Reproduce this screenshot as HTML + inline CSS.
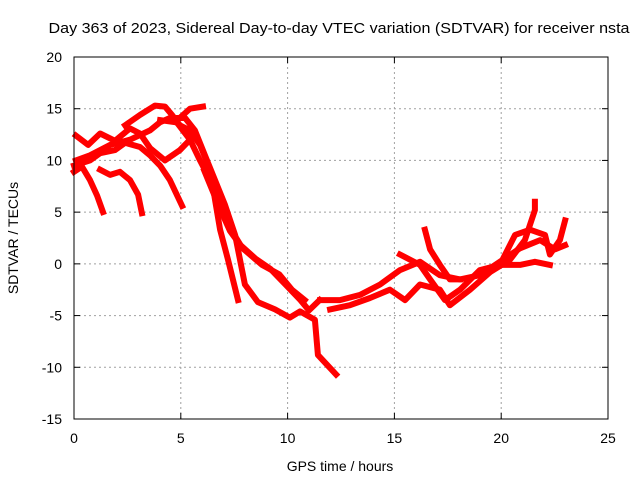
<!DOCTYPE html>
<html><head><meta charset="utf-8"><style>
html,body{margin:0;padding:0;background:#fff;}
svg{display:block;font-family:"Liberation Sans",sans-serif;}
</style></head><body>
<svg id="chart" width="640" height="480" viewBox="0 0 640 480" xmlns="http://www.w3.org/2000/svg">
<text x="339" y="33" font-size="15" text-anchor="middle" textLength="581" lengthAdjust="spacingAndGlyphs">Day 363 of 2023, Sidereal Day-to-day VTEC variation (SDTVAR) for receiver nsta</text>
<g id="grid"></g>
<g id="axes"></g>
<g id="series"></g>
<rect x="74" y="57" width="534" height="362" fill="none" stroke="#000" stroke-width="1"/>
<text x="340" y="471" font-size="14" text-anchor="middle">GPS time / hours</text>
<text transform="translate(18,238) rotate(-90)" font-size="14" text-anchor="middle">SDTVAR / TECUs</text>
</svg>
<script>
const xTicks=[0,5,10,15,20,25];
const yTicks=[20,15,10,5,0,-5,-10,-15];
const arc1Hours=[0,0.37,0.75,1.08,1.36];
const arc1Tec=[8.9,9.4,8.1,6.6,5.0];
const arc2Hours=[0,0.75,1.22,1.92,2.39,3.09,3.56,4.03,4.49,5.06];
const arc2Tec=[9.5,10.0,10.7,11.0,11.7,11.3,10.5,9.5,8.1,5.6];
const arc3Hours=[1.22,1.69,2.15,2.62,3.0,3.18];
const arc3Tec=[9.1,8.6,8.9,8.1,6.7,4.9];
const arc4Hours=[0.09,0.66,1.22,1.92,2.62,3.09,3.56,4.26,4.96,5.43];
const arc4Tec=[12.4,11.5,12.6,11.9,13.1,12.6,11.2,10.0,11.0,12.0];
const arc5Hours=[0.09,0.75,1.69,2.62,3.56,4.03,4.49,5.2,5.66,6.13,6.6,7.07,7.54,7.77,8.0,8.61,9.41,10.11,10.58,11.28,11.42,12.27];
const arc5Tec=[10.0,10.5,11.5,12.0,12.9,13.7,14.1,14.1,12.9,10.5,8.1,5.7,2.8,0.4,-2.0,-3.7,-4.4,-5.2,-4.6,-5.4,-8.8,-10.7];
const arc6Hours=[2.39,3.09,3.79,4.26,4.59,4.96,5.43,5.9,6.37,6.6,6.84,7.21,7.68];
const arc6Tec=[13.4,14.4,15.3,15.2,14.4,13.4,12.9,11.5,9.1,6.2,3.3,0.4,-3.5];
const arc7Hours=[4.03,4.73,5.43,6.04];
const arc7Tec=[13.9,13.7,15.0,15.2];
const arc8Hours=[4.73,5.43,5.9,6.4,6.9,7.3,7.8,8.5,9.2,9.9,10.6,11.0,11.5];
const arc8Tec=[13.9,12.0,10.0,8.0,5.5,3.5,1.8,0.5,-0.5,-2.0,-3.5,-4.5,-3.5];
const arc9Hours=[6.1,6.8,7.3,7.9,8.8,9.6,10.2,10.8];
const arc9Tec=[9.0,5.5,3.2,1.5,-0.1,-1.0,-2.5,-3.5];
const arc10Hours=[11.52,12.45,13.39,14.33,15.26,16.2,17.13,18.07,19.0,19.94,20.88,21.82,22.52,22.99];
const arc10Tec=[-3.5,-3.5,-3.0,-2.0,-0.6,0.2,-1.1,-1.5,-1.1,0.2,1.5,2.3,1.4,1.8];
const arc11Hours=[11.99,12.92,13.86,14.79,15.5,16.2,17.13,17.6,18.54,19.48,20.41,21.11,21.58,21.58];
const arc11Tec=[-4.4,-4.0,-3.3,-2.5,-3.5,-2.0,-2.5,-4.0,-2.5,-0.8,0.4,2.3,5.2,6.0];
const arc12Hours=[15.26,16.2,16.67,17.37,18.07,19.0,19.94,20.88,21.58,22.28];
const arc12Tec=[0.9,-0.1,-1.5,-3.5,-2.5,-0.6,-0.1,-0.1,0.2,-0.1];
const arc13Hours=[16.43,16.67,17.13,17.6,18.07];
const arc13Tec=[3.3,1.4,-0.1,-1.5,-1.5];
const arc14Hours=[19.94,20.65,21.35,22.05,22.28,22.75,22.99];
const arc14Tec=[-0.1,2.8,3.3,2.8,0.9,2.3,4.2];
const arcs=[[arc1Hours,arc1Tec],[arc2Hours,arc2Tec],[arc3Hours,arc3Tec],[arc4Hours,arc4Tec],[arc5Hours,arc5Tec],[arc6Hours,arc6Tec],[arc7Hours,arc7Tec],[arc8Hours,arc8Tec],[arc9Hours,arc9Tec],[arc10Hours,arc10Tec],[arc11Hours,arc11Tec],[arc12Hours,arc12Tec],[arc13Hours,arc13Tec],[arc14Hours,arc14Tec]];

const X0=74,X1=608,Y0=419,Y1=57;
function sx(h){return X0+(h-0)/(25-0)*(X1-X0);}
function sy(v){return Y0-(v+15)/(35)*(Y0-Y1);}
const NS="http://www.w3.org/2000/svg";
const grid=document.getElementById('grid'),axes=document.getElementById('axes'),series=document.getElementById('series');
function mk(tag,attrs,parent){const e=document.createElementNS(NS,tag);for(const k in attrs)e.setAttribute(k,attrs[k]);parent.appendChild(e);return e;}
xTicks.forEach(t=>{
  const x=sx(t);
  if(t>0&&t<25){const g=mk('line',{x1:x,x2:x,y1:Y1,y2:Y0,stroke:'#a0a0a0','stroke-dasharray':'2,3'},grid);
  
  }
  const tk=mk('line',{x1:x,x2:x,y1:Y0,y2:Y0-6,stroke:'#000'},axes);
  
  
  const tk2=mk('line',{x1:x,x2:x,y1:Y1,y2:Y1+6,stroke:'#000'},axes);
  
  
  const l=mk('text',{x:x,y:443,'font-size':14,'text-anchor':'middle'},axes);l.textContent=t;
  
  
});
yTicks.forEach(t=>{
  const y=sy(t);
  if(t>-15&&t<20){const g=mk('line',{x1:X0,x2:X1,y1:y,y2:y,stroke:'#a0a0a0','stroke-dasharray':'2,3'},grid);
  
  }
  const tk=mk('line',{x1:X0,x2:X0+6,y1:y,y2:y,stroke:'#000'},axes);
  
  
  const tk2=mk('line',{x1:X1,x2:X1-6,y1:y,y2:y,stroke:'#000'},axes);
  
  
  const l=mk('text',{x:62,y:y+5,'font-size':14,'text-anchor':'end'},axes);l.textContent=t;
  
  
});
arcs.forEach(a=>{
  const pts=a[0].map((h,i)=>sx(h).toFixed(1)+','+sy(a[1][i]).toFixed(1)).join(' ');
  const p=mk('polyline',{points:pts,fill:'none',stroke:'#ff0000','stroke-width':6,'stroke-linejoin':'round','stroke-linecap':'square'},series);
  
  
});
</script>
</body></html>
